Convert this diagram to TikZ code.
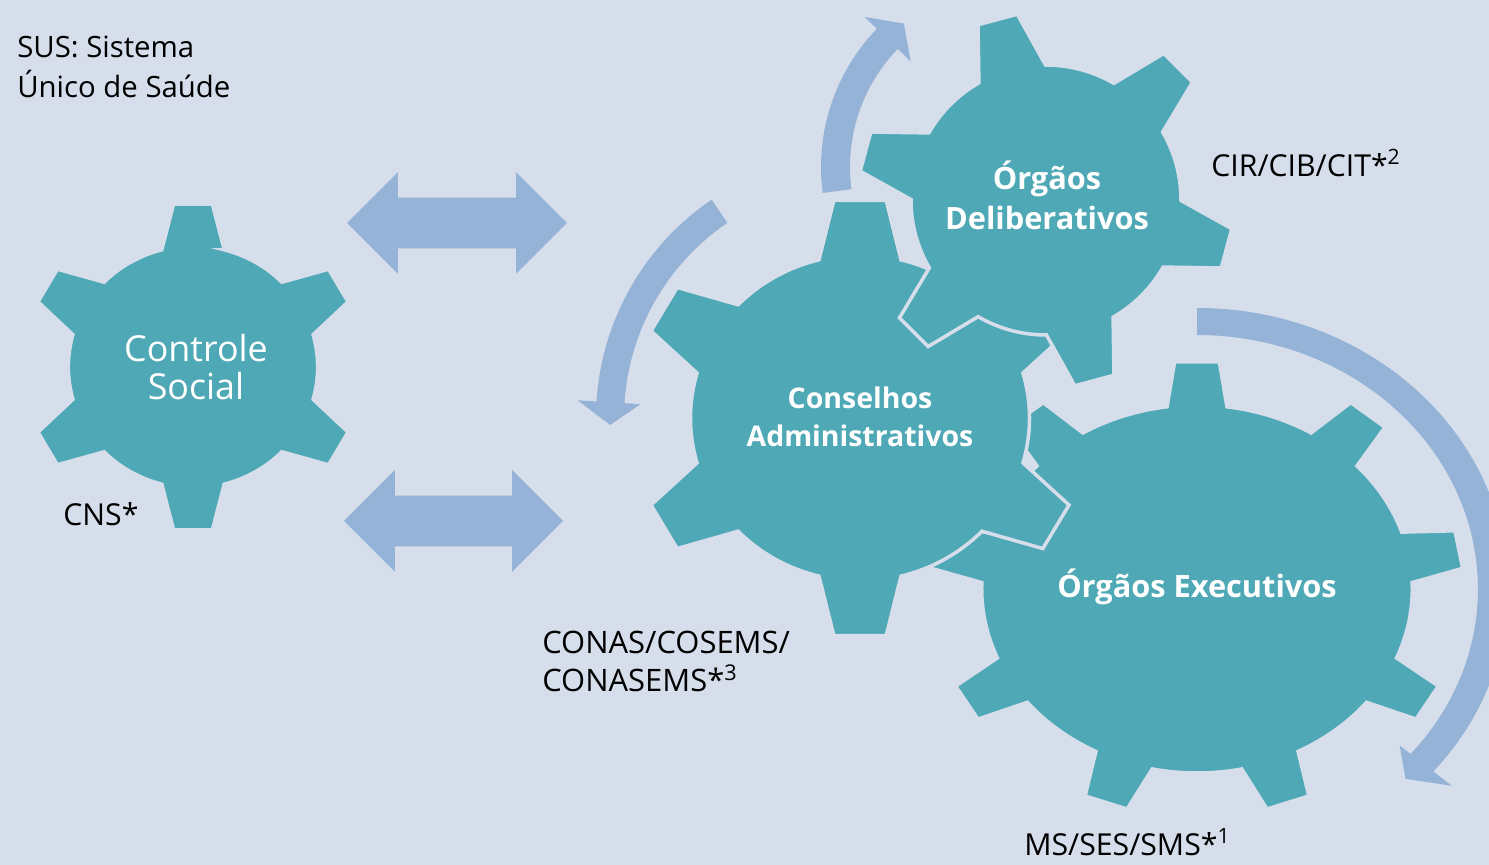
\documentclass[tikz,border=0pt]{standalone}
\usepackage{fontspec}
\setmainfont{Open Sans}
\usetikzlibrary{shapes.arrows, positioning}

\definecolor{pagebg}{RGB}{214,222,235}
\definecolor{cogteal}{RGB}{79,168,181}
\definecolor{arrowblue}{RGB}{149,179,215}

% cog: centre, xscale, inner r, outer r, teeth, first tooth, half base, half tip
\newcommand{\cog}[8]{%
  \begin{scope}[shift={#1}, xscale=#2]
    \pgfmathsetmacro{\cogstep}{360/#5}
    \filldraw[cog] ({#6-#7}:#3)
      \foreach \k in {1,...,#5}{
        -- ({#6+(\k-1)*\cogstep-#8}:#4) -- ({#6+(\k-1)*\cogstep+#8}:#4)
        -- ({#6+(\k-1)*\cogstep+#7}:#3)
        arc[start angle={#6+(\k-1)*\cogstep+#7}, end angle={#6+\k*\cogstep-#7}, radius=#3]
      } -- cycle;
  \end{scope}}

% round arrow: centre, xscale, inner r, outer r, start, head, tip, head inner r, head outer r
\newcommand{\roundarrow}[9]{%
  \begin{scope}[shift={#1}, xscale=#2]
    \fill[bendarrow] ({#5}:#4) arc[start angle=#5, end angle=#6, radius=#4]
      -- ({#6}:#9) -- ({#7}:{(#3+#4)/2}) -- ({#6}:#8) -- ({#6}:#3)
      arc[start angle=#6, end angle=#5, radius=#3] -- cycle;
  \end{scope}}

\begin{document}
\begin{tikzpicture}[x=0.02cm, y=0.02cm,
  cog/.style={fill=cogteal, draw=pagebg, line width=2pt},
  bendarrow/.style={fill=arrowblue},
  link/.style={double arrow, fill=arrowblue, inner xsep=0pt, inner ysep=0.5cm, text height=0pt, text depth=0pt, minimum height=4.4cm, double arrow head extend=0.51cm},
  cogtext/.style={text=white, align=center, inner sep=0pt},
  note/.style={text=black, inner sep=0pt, font=\fontsize{17.2}{22.5}\selectfont}]

	% Background
	\path[use as bounding box, fill=pagebg] (0,0) rectangle (1489,-865);
	\clip (0,0) rectangle (1489,-865);

	% Round arrows
	\roundarrow{(860,-418)}{1}{236}{264}{124.2}{176.4}{181.6}{220}{283}
	\roundarrow{(1020,-167)}{1}{170}{199}{187.5}{136}{129}{152}{216}
	\roundarrow{(1197,-589)}{1.106}{254}{281}{90}{-40.5}{-45.2}{241}{303}

	% Cogs
	\cog{(193,-367)}{1.03}{121}{164}{6}{90}{14.5}{6.6}
	\cog{(1197,-589)}{1.17}{184}{228}{9}{90}{8}{4.8}
	\cog{(860,-418)}{1.04}{163}{219}{6}{90}{14}{6.6}
	\cog{(1046,-200)}{1}{135}{188}{6}{105}{14.8}{6.2}

	% Cog names
	\node[cogtext, font=\fontsize{20.4}{21.5}\selectfont] (cs) at (196,-367) {Controle\\Social};
	\node[cogtext, font=\bfseries\fontsize{16.2}{21.5}\selectfont] (ca) at (860,-417) {Conselhos\\Administrativos};
	\node[cogtext, font=\bfseries\fontsize{17.5}{22.7}\selectfont] (od) at (1047,-195) {Órgãos\\Deliberativos};
	\node[cogtext, font=\bfseries\fontsize{17.5}{22.7}\selectfont, anchor=base] (oe) at (1197,-597) {Órgãos Executivos};

	% Double arrows
	\node[link] (link1) at (457,-223) {};
	\node[link, minimum height=4.38cm, on grid, below=5.96cm of link1, xshift=-0.07cm] (link2) {};

	% Notes
	\node[note, font=\fontsize{16.7}{22.5}\selectfont, anchor=north west, align=left] (sus) at (17,-36) {SUS: Sistema\\Único de Saúde};
	\node[note, anchor=base west] (cns) at (63,-525) {CNS*};
	\node[note, anchor=base west] (cir) at (1211,-176) {CIR/CIB/CIT*\textsuperscript{2}};
	\node[note, font=\fontsize{17.6}{21.5}\selectfont, anchor=north west, align=left] (conas) at (542,-631) {CONAS/COSEMS/\\CONASEMS*\textsuperscript{3}};
	\node[note, anchor=base west] (ms) at (1024,-855) {MS/SES/SMS*\textsuperscript{1}};
\end{tikzpicture}
\end{document}
